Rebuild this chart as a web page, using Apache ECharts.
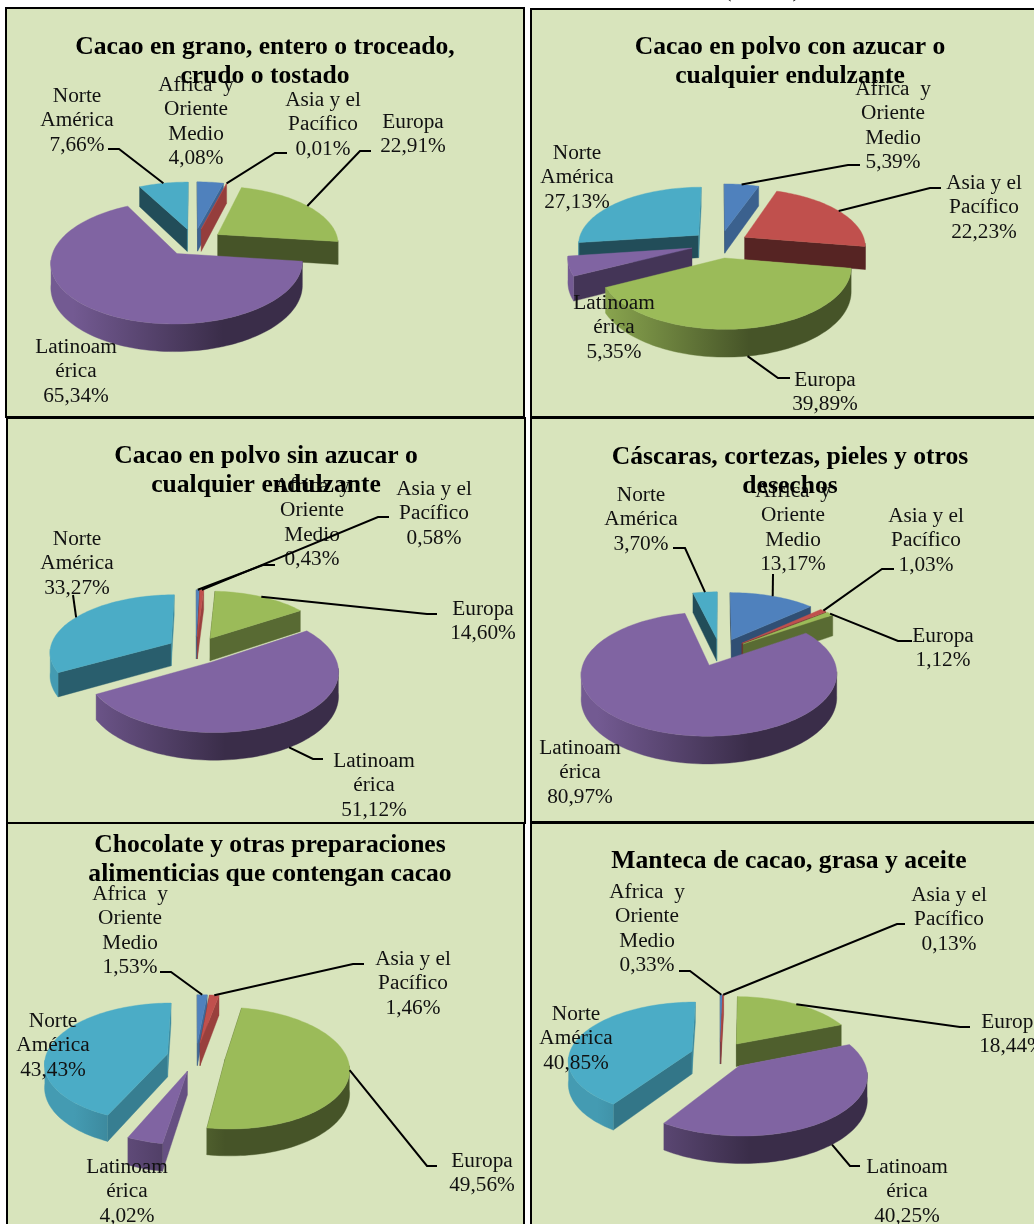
<!DOCTYPE html>
<html>
<head>
<meta charset="utf-8">
<style>html,body{margin:0;padding:0;background:#fff}#chart{width:1034px;height:1224px}</style>
<script src="https://cdn.jsdelivr.net/npm/echarts@6/dist/echarts.min.js"></script>
</head>
<body>
<div id="chart"></div>
<script>
// region names, same order in every pie (clockwise from 12 o'clock)
const regions = ['Africa  y\nOriente\nMedio', 'Asia y el\nPacífico', 'Europa', 'Latinoam\nérica', 'Norte\nAmérica'];
const colors = ['#4f81bd', '#c0504d', '#9bbb59', '#8064a2', '#4bacc6'];

const titles = [
  'Cacao en grano, entero o troceado,\ncrudo o tostado',
  'Cacao en polvo con azucar o\ncualquier endulzante',
  'Cacao en polvo sin azucar o\ncualquier endulzante',
  'Cáscaras, cortezas, pieles y otros\ndesechos',
  'Chocolate y otras preparaciones\nalimenticias que contengan cacao',
  'Manteca de cacao, grasa y aceite'
];

const cacaoGrano = [4.08, 0.01, 22.91, 65.34, 7.66];
const polvoConAzucar = [5.39, 22.23, 39.89, 5.35, 27.13];
const polvoSinAzucar = [0.43, 0.58, 14.60, 51.12, 33.27];
const cascaras = [13.17, 1.03, 1.12, 80.97, 3.70];
const chocolate = [1.53, 1.46, 49.56, 4.02, 43.43];
const manteca = [0.33, 0.13, 18.44, 40.25, 40.85];
const panelValues = [cacaoGrano, polvoConAzucar, polvoSinAzucar, cascaras, chocolate, manteca];

// layout only from here on
const frames = [[6, 8, 518, 409], [531, 9, 510, 408], [7, 418, 518, 405], [531, 418, 510, 404], [7, 823, 517, 410], [531, 823, 510, 410]];
const titlePos = [[265, 33], [790, 33], [266, 442], [790, 443], [270, 831], [789, 847]];
const pies = [
  { cx: 194, cy: 242, rx: 121, ry: 57, depth: 23 },
  { cx: 720, cy: 244, rx: 121, ry: 57, depth: 23 },
  { cx: 196, cy: 650, rx: 121.5, ry: 57, depth: 23 },
  { cx: 720, cy: 652, rx: 122.5, ry: 57, depth: 23 },
  { cx: 196, cy: 1057, rx: 122, ry: 59, depth: 23 },
  { cx: 720, cy: 1055, rx: 123, ry: 57, depth: 23 }
];
const EXPLODE = 0.24;
const PERSP = 0.14;

// label centre x, first line centre y
const labelPos = [
  [[196, 83], [323, 98], [413, 120], [76, 345], [77, 94]],
  [[893, 87], [984, 181], [825, 378], [614, 301], [577, 151]],
  [[312, 484], [434, 487], [483, 607], [374, 759], [77, 537]],
  [[793, 489], [926, 514], [943, 634], [580, 746], [641, 493]],
  [[130, 892], [413, 957], [482, 1159], [127, 1165], [53, 1019]],
  [[647, 890], [949, 893], [1012, 1020], [907, 1165], [576, 1012]]
];
// leader line start next to the label, then the elbow; the tip is found on the slice
const leaders = [
  [null, [[287, 153], [275, 153]], [[371, 151], [360, 151]], null, [[108, 149], [119, 149]]],
  [[[860, 165], [848, 165]], [[941, 188], [930, 188]], [[790, 378], [778, 378]], null, null],
  [[[275, 565], [263, 565]], [[389, 517], [378, 517]], [[437, 614], [427, 614]], [[323, 759], [313, 759]], [[73, 595]]],
  [[[773, 574]], [[894, 569], [882, 569]], [[912, 641], [898, 641]], null, [[673, 548], [685, 548]]],
  [[[160, 972], [171, 972]], [[364, 964], [353, 964]], [[437, 1166], [427, 1166]], null, null],
  [[[679, 971], [690, 971]], [[905, 924], [897, 924]], [[970, 1027], [960, 1027]], [[860, 1166], [850, 1166]], null]
];
// bottoms of a cut off line of text above the top right frame
const topMarks = [['(', 728], [')', 796]];

const FONT = '"Liberation Serif", "Times New Roman", serif';

function shade(hex, f) {
  const n = parseInt(hex.slice(1), 16);
  const c = [n >> 16, (n >> 8) & 255, n & 255].map(v => Math.round(v * f));
  return 'rgb(' + c.join(',') + ')';
}

function sliceAngles(vals, i) {
  const total = vals.reduce((a, b) => a + b, 0);
  let before = 0;
  for (let k = 0; k < i; k++) before += vals[k];
  const a0 = before / total * Math.PI * 2;
  const a1 = (before + vals[i]) / total * Math.PI * 2;
  return { a0, a1, mid: (a0 + a1) / 2 };
}

// ground plane -> screen, u to the right and v to the back, in radius units
function project(pie, u, v, h) {
  const w = 1 + PERSP * v;
  return [pie.cx + pie.rx * u / w, pie.cy + (-pie.ry * v + h * pie.depth) / w];
}

function rimPoint(pie, ang, mid, h) {
  return project(pie, Math.sin(ang) + EXPLODE * Math.sin(mid), Math.cos(ang) + EXPLODE * Math.cos(mid), h);
}

// wall brightness from the direction its normal faces, degrees clockwise from the back
function wallFactor(n) {
  n = ((n % 360) + 360) % 360;
  if (n >= 170) return 0.45;
  return Math.min(0.8, 0.45 + 0.35 * (170 - n) / 70);
}

function renderSlice(p, params, api) {
  const vals = panelValues[p];
  const pie = pies[p];
  const i = api.value(1);
  const { a0, a1, mid } = sliceAngles(vals, i);
  const base = colors[i];
  const arc = (from, to, h) => {
    const steps = Math.max(2, Math.ceil((to - from) / 0.03));
    const pts = [];
    for (let s = 0; s <= steps; s++) pts.push(rimPoint(pie, from + (to - from) * s / steps, mid, h));
    return pts;
  };
  const top = arc(a0, a1, 0);
  const apexT = project(pie, EXPLODE * Math.sin(mid), EXPLODE * Math.cos(mid), 0);
  const apexB = project(pie, EXPLODE * Math.sin(mid), EXPLODE * Math.cos(mid), 1);
  const poly = (points, fill) => ({
    type: 'polygon',
    shape: { points },
    style: { fill, stroke: fill, lineWidth: 0.4 }
  });
  const children = [];
  // cut faces, only the ones turned to the viewer
  [[a0, a0 - Math.PI / 2], [a1, a1 + Math.PI / 2]].forEach(([a, n]) => {
    if (Math.cos(n) > 0.2) return;
    children.push(poly(
      [apexT, rimPoint(pie, a, mid, 0), rimPoint(pie, a, mid, 1), apexB],
      shade(base, wallFactor(n * 180 / Math.PI))
    ));
  });
  // outer rim, front half only
  const frontFrom = Math.max(a0, 96 * Math.PI / 180);
  const frontTo = Math.min(a1, 264 * Math.PI / 180);
  if (frontTo > frontFrom) {
    const rimFill = new echarts.graphic.LinearGradient(pie.cx - pie.rx, 0, pie.cx + pie.rx, 0, [
      { offset: 0, color: shade(base, 0.9) },
      { offset: 0.62, color: shade(base, 0.45) },
      { offset: 1, color: shade(base, 0.45) }
    ], true);
    children.push(poly(arc(frontFrom, frontTo, 0).concat(arc(frontFrom, frontTo, 1).reverse()), rimFill));
  }
  children.push(poly([apexT].concat(top), base));
  return { type: 'group', children };
}

function renderLabel(p, params, api) {
  const vals = panelValues[p];
  const pie = pies[p];
  const i = api.value(1);
  const pct = vals[i].toFixed(2).replace('.', ',') + '%';
  const [lx, ly] = labelPos[p][i];
  const children = [];
  if (leaders[p][i]) {
    const { mid } = sliceAngles(vals, i);
    const tip = rimPoint(pie, mid, mid, Math.cos(mid) < -0.2 ? 1 : 0);
    children.push({
      type: 'polyline',
      shape: { points: leaders[p][i].concat([tip]) },
      style: { stroke: '#000', lineWidth: 2, fill: null }
    });
  }
  children.push({
    type: 'text',
    style: {
      text: regions[i] + '\n' + pct,
      x: lx, y: ly - 10.25,
      fill: '#111',
      fontFamily: FONT, fontSize: 21.3, lineHeight: 24.5,
      textAlign: 'center', textVerticalAlign: 'top'
    }
  });
  return { type: 'group', children };
}

const series = [];
panelValues.forEach((vals, p) => {
  // back slices first so the front ones paint over them
  const order = vals.map((v, i) => i).sort((a, b) => Math.cos(sliceAngles(vals, b).mid) - Math.cos(sliceAngles(vals, a).mid));
  const data = order.map(i => [vals[i], i]);
  series.push({ type: 'custom', coordinateSystem: 'none', z: 2, silent: true, animation: false, data, renderItem: (params, api) => renderSlice(p, params, api) });
  series.push({ type: 'custom', coordinateSystem: 'none', z: 3, silent: true, animation: false, data, renderItem: (params, api) => renderLabel(p, params, api) });
});

const chart = echarts.init(document.getElementById('chart'));
chart.setOption({
  animation: false,
  backgroundColor: '#fff',
  title: titles.map((t, p) => ({
    text: t,
    left: titlePos[p][0],
    top: titlePos[p][1],
    padding: 0,
    textAlign: 'center',
    textStyle: { fontFamily: FONT, fontWeight: 'bold', fontSize: 25.6, lineHeight: 29, color: '#000' }
  })),
  graphic: {
    elements: frames.map(f => ({
      type: 'rect',
      z: -1,
      silent: true,
      shape: { x: f[0], y: f[1], width: f[2], height: f[3] },
      style: { fill: '#d8e4bc', stroke: '#000', lineWidth: 2 }
    })).concat(topMarks.map(m => ({
      type: 'text',
      silent: true,
      style: { text: m[0], x: m[1], y: -19, fill: '#111', fontFamily: FONT, fontSize: 21.3, textAlign: 'center' }
    })))
  },
  series
});
</script>
</body>
</html>
